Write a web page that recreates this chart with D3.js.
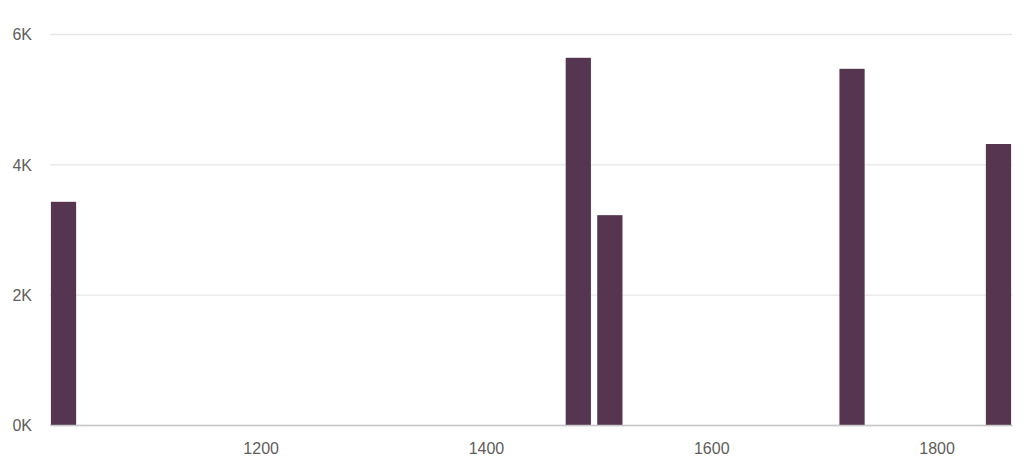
<!DOCTYPE html>
<html>
<head>
<meta charset="utf-8">
<script src="https://cdn.jsdelivr.net/npm/d3@7.9.0/dist/d3.min.js"></script>
<style>
  html, body { margin: 0; padding: 0; background: #fff; }
  svg { display: block; font-family: "Open Sans", "Noto Sans", sans-serif; }
  .tick text { fill: #605E5C; font-size: 16px; }
</style>
</head>
<body>
<svg id="chart" width="1024" height="476"></svg>
<script>
// Values
const years = [1025, 1482, 1510, 1725, 1855];
const counts = [3425, 5635, 3220, 5466, 4312];
const yTicks = [0, 2000, 4000, 6000];
const xTicks = [1200, 1400, 1600, 1800];

const margin = { top: 34, right: 12, bottom: 51, left: 50 };
const width = 1024, height = 476;

const svg = d3.select('#chart');

const x = d3.scaleLinear()
  .domain([1013, 1867])
  .range([margin.left, width - margin.right]);

const y = d3.scaleLinear()
  .domain([0, 6000])
  .range([height - margin.bottom, margin.top]);

// smallest gap between points decides bar width
const minGap = d3.min(d3.pairs(years), ([a, b]) => b - a);
const barW = x(years[0] + minGap * 0.8) - x(years[0]);

// gridlines + y labels
const yAxis = svg.append('g')
  .attr('transform', `translate(${margin.left},0)`)
  .call(d3.axisLeft(y).tickValues(yTicks)
    .tickSize(-(width - margin.left - margin.right))
    .tickPadding(18)
    .tickFormat((d) => `${d / 1000}K`));
yAxis.select('.domain').remove();
yAxis.selectAll('.tick line').attr('stroke', '#E6E6E6').attr('stroke-width', 1.3);
yAxis.selectAll('.tick text').attr('dy', '0.36em');

// bars
svg.append('g')
  .selectAll('rect')
  .data(years)
  .join('rect')
  .attr('x', (d) => x(d) - barW / 2)
  .attr('y', (d, i) => y(counts[i]))
  .attr('width', barW)
  .attr('height', (d, i) => y(0) - y(counts[i]))
  .attr('fill', '#55354F');

// x axis
const xAxis = svg.append('g')
  .attr('transform', `translate(0,${y(0)})`)
  .call(d3.axisBottom(x).tickValues(xTicks).tickSize(0).tickPadding(18)
    .tickFormat(d3.format('d')));
xAxis.select('.domain').attr('stroke', '#C8C8C8').attr('stroke-width', 1.6);
</script>
</body>
</html>
